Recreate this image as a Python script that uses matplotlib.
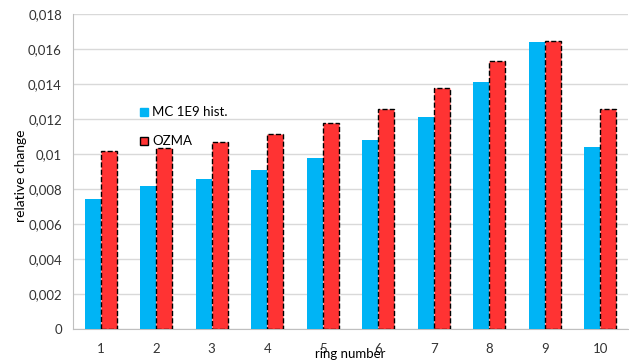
import matplotlib.pyplot as plt
import numpy as np
from matplotlib.lines import Line2D
from matplotlib.ticker import FuncFormatter

rings = ['1', '2', '3', '4', '5', '6', '7', '8', '9', '10']
mc_hist = [0.00743, 0.00816, 0.00855, 0.00909, 0.00977, 0.01079, 0.01212, 0.01411, 0.01641, 0.01041]
ozma = [0.01018, 0.01037, 0.01068, 0.01115, 0.01176, 0.01260, 0.01377, 0.01529, 0.01643, 0.01256]

plt.rcParams['font.family'] = ['Lato', 'DejaVu Sans']

fig = plt.figure(figsize=(6.29, 3.62), dpi=100)
ax = fig.add_axes([73 / 629, 1 - 329 / 362, 555 / 629, 315 / 362])

x = np.arange(len(rings))
w = 0.29
ax.bar(x - w / 2, mc_hist, w, color='#00B4F5', zorder=3)
ax.bar(x + w / 2, ozma, w, color='#FF3333', edgecolor='black', linestyle='--',
       linewidth=1.0, zorder=3)

ax.set_xlim(-0.5, len(rings) - 0.5)
ax.set_ylim(0, 0.018)
ax.set_yticks(np.arange(0, 0.0181, 0.002))

def fmt(v, pos):
    s = ('%.3f' % v).rstrip('0').rstrip('.')
    return s.replace('.', ',')

ax.yaxis.set_major_formatter(FuncFormatter(fmt))
ax.set_xticks(x)
ax.set_xticklabels(rings)
ax.tick_params(axis='both', length=0, labelsize=9.5, colors='#333333')
ax.tick_params(axis='x', pad=10)
ax.tick_params(axis='y', pad=8)

ax.grid(axis='y', color='#D9D9D9', linewidth=1, zorder=0)
for s in ['top', 'right']:
    ax.spines[s].set_visible(False)
ax.spines['left'].set_color('#BFBFBF')
ax.spines['bottom'].set_color('#BFBFBF')
ax.axhline(0.018, color='#BFBFBF', linewidth=1.2, zorder=1)

ax.set_ylabel('relative change', fontsize=10, labelpad=2)
ax.yaxis.set_label_coords(-0.083, 0.486)
ax.set_xlabel('ring number', fontsize=9.5, labelpad=0)
ax.xaxis.set_label_coords(0.50, -0.06)

handles = [
    Line2D([], [], marker='s', linestyle='none', markersize=6,
           markerfacecolor='#00B4F5', markeredgecolor='#00B4F5'),
    Line2D([], [], marker='s', linestyle='none', markersize=6,
           markerfacecolor='#FF3333', markeredgecolor='black'),
]
ax.legend(handles, ['MC 1E9 hist.', 'OZMA'], loc='upper left',
          bbox_to_anchor=(0.095, 0.745), frameon=False, fontsize=9.5,
          handletextpad=0.1, handlelength=1.0, labelspacing=1.3)

fig.savefig('out.png', dpi=100)
